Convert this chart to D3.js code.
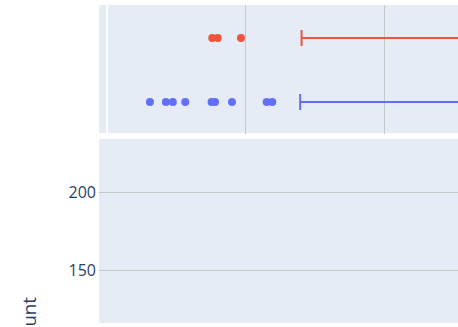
<!DOCTYPE html>
<html>
<head>
<meta charset="utf-8">
<script src="https://cdn.jsdelivr.net/npm/d3@7"></script>
<style>
  html, body { margin: 0; padding: 0; background: #fff; }
  svg { display: block; }
</style>
</head>
<body>
<svg id="chart" width="458" height="327"></svg>
<script>
// Groups shown in the marginal box strip (top row first)
const groups = ["B", "A"];
const groupColors = ["#EF553B", "#636efa"];

// Low outliers of each group
const outliersB = [15.2, 16.0, 19.35];
const outliersA = [6.2, 8.5, 9.5, 11.3, 15.1, 15.6, 18.05, 23.06, 23.87];

// Box statistics: lower fence, q1, median, q3, upper fence
const lowerFence = [28.1, 27.9];
const q1 = [56, 55];
const median = [66, 64];
const q3 = [78, 76];
const upperFence = [110, 106];

// Axis ticks
const xTicks = [0, 20, 40];
const yTicks = [150, 200];
const yTitle = "Count";

const svg = d3.select("#chart");

// Layout of the two stacked panels
const left = 99, right = 458;
const topY0 = 5, topY1 = 133;
const mainY0 = 139, mainY1 = 323;

const x = d3.scaleLinear().domain([-1.16, 50.7]).range([left, right]);
const yBox = d3.scalePoint().domain(groups).range([topY0 + 1, topY1 + 1]).padding(0.5);
const y = d3.scaleLinear().domain([116, 234]).range([mainY1, mainY0]);

const defs = svg.append("defs");
defs.append("clipPath").attr("id", "clipTop")
  .append("rect").attr("x", left).attr("y", topY0)
  .attr("width", right - left).attr("height", topY1 - topY0);

// Panel backgrounds
svg.append("rect").attr("x", left).attr("y", topY0)
  .attr("width", right - left).attr("height", topY1 - topY0).attr("fill", "#E5ECF6");
svg.append("rect").attr("x", left).attr("y", mainY0)
  .attr("width", right - left).attr("height", mainY1 - mainY0).attr("fill", "#E5ECF6");

// Vertical grid in the marginal panel
const topG = svg.append("g");
topG.selectAll("line.grid")
  .data(xTicks.filter(d => d !== 0))
  .join("line")
  .attr("class", "grid")
  .attr("x1", d => Math.round(x(d)) + 0.5).attr("x2", d => Math.round(x(d)) + 0.5)
  .attr("y1", topY0).attr("y2", topY1 + 1)
  .attr("stroke", "#c8c8c8").attr("stroke-width", 1);

// Zero line
topG.append("line")
  .attr("x1", x(0)).attr("x2", x(0))
  .attr("y1", topY0).attr("y2", topY1 + 1)
  .attr("stroke", "#ffffff").attr("stroke-width", 2);

// Horizontal grid in the histogram panel
const mainG = svg.append("g");
mainG.selectAll("line.grid")
  .data(yTicks)
  .join("line")
  .attr("class", "grid")
  .attr("x1", left).attr("x2", right)
  .attr("y1", d => Math.round(y(d)) + 0.5).attr("y2", d => Math.round(y(d)) + 0.5)
  .attr("stroke", "#c8c8c8").attr("stroke-width", 1);

// Y tick labels
mainG.selectAll("text.tick")
  .data(yTicks)
  .join("text")
  .attr("class", "tick")
  .attr("x", left - 3)
  .attr("y", d => y(d))
  .attr("dy", "0.36em")
  .attr("text-anchor", "end")
  .attr("font-family", "'Open Sans', sans-serif")
  .attr("font-size", 16)
  .attr("fill", "#2a3f5f")
  .text(d => d);

// Y axis title, rotated; its lower half runs past the bottom edge
svg.append("text")
  .attr("transform", "translate(36, 297) rotate(-90)")
  .attr("text-anchor", "end")
  .attr("font-family", "'Open Sans', sans-serif")
  .attr("font-size", 18.7)
  .attr("fill", "#2a3f5f")
  .text(yTitle);

// Box plots with whiskers and outliers
const boxes = svg.append("g").attr("clip-path", "url(#clipTop)");
const capHalf = 8, boxHalf = 16;
groups.forEach((g, i) => {
  const cy = yBox(g);
  const c = groupColors[i];
  const gg = boxes.append("g");
  // whiskers
  gg.append("line").attr("x1", x(lowerFence[i])).attr("x2", x(q1[i]))
    .attr("y1", cy).attr("y2", cy).attr("stroke", c).attr("stroke-width", 2);
  gg.append("line").attr("x1", x(q3[i])).attr("x2", x(upperFence[i]))
    .attr("y1", cy).attr("y2", cy).attr("stroke", c).attr("stroke-width", 2);
  // caps
  [lowerFence[i], upperFence[i]].forEach(v => {
    gg.append("line").attr("x1", x(v)).attr("x2", x(v))
      .attr("y1", cy - capHalf).attr("y2", cy + capHalf)
      .attr("stroke", c).attr("stroke-width", 2);
  });
  // box and median
  gg.append("rect").attr("x", x(q1[i])).attr("y", cy - boxHalf)
    .attr("width", x(q3[i]) - x(q1[i])).attr("height", boxHalf * 2)
    .attr("fill", c).attr("fill-opacity", 0.5).attr("stroke", c).attr("stroke-width", 2);
  gg.append("line").attr("x1", x(median[i])).attr("x2", x(median[i]))
    .attr("y1", cy - boxHalf).attr("y2", cy + boxHalf)
    .attr("stroke", c).attr("stroke-width", 2);
  // outliers
  const pts = i === 0 ? outliersB : outliersA;
  gg.selectAll("circle").data(pts).join("circle")
    .attr("cx", d => x(d)).attr("cy", cy).attr("r", 4)
    .attr("fill", c);
});
</script>
</body>
</html>
